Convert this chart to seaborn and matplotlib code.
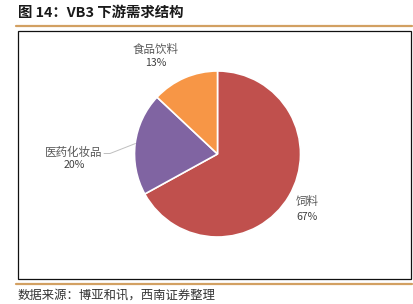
import matplotlib
matplotlib.use("Agg")
import matplotlib.pyplot as plt
import seaborn as sns
from matplotlib.patches import Rectangle
from matplotlib.lines import Line2D

categories = ["饲料", "医药化妆品", "食品饮料"]
shares = [67, 20, 13]
colors = ["#C0504D", "#8064A2", "#F79646"]
title_text = "图 14：VB3 下游需求结构"
source_text = "数据来源：博亚和讯，西南证券整理"

sns.set_theme(style="white")
plt.rcParams['font.family'] = ['Noto Sans CJK SC', 'DejaVu Sans']

W, H = 414, 304
fig = plt.figure(figsize=(W / 100, H / 100), dpi=100)

def fx(px):
    return px / W

def fy(py):
    return 1 - py / H

# header / footer
fig.text(fx(18), fy(13), title_text, fontsize=10.4, fontweight="bold",
         color="#1a1a1a", va="center", ha="left")
fig.add_artist(Line2D([fx(16), fx(412)], [fy(26), fy(26)], color="#D2A062", lw=1.6))
fig.add_artist(Rectangle((fx(18), fy(279)), fx(411) - fx(18), fy(31) - fy(279),
                         fill=False, edgecolor="#111111", lw=0.9))
fig.add_artist(Line2D([fx(16), fx(412)], [fy(284), fy(284)], color="#D2A062", lw=1.6))
fig.text(fx(18), fy(295), source_text, fontsize=8.9, style="italic",
         color="#333333", va="center", ha="left")

# pie axes
cx, cy, r = 217.5, 154, 83
ax = fig.add_axes([fx(cx - r), fy(cy + r), 2 * r / W, 2 * r / H])
ax.pie(shares, colors=colors, startangle=90, counterclock=False, radius=1,
       wedgeprops=dict(edgecolor="white", linewidth=1.2))
ax.set_xlim(-1, 1)
ax.set_ylim(-1, 1)
ax.axis("off")

def p2d(px, py):
    return ((px - cx) / r, (cy - py) / r)

label_pos = {
    "饲料": (307, 202, 216.5),
    "医药化妆品": (74, 152, 165),
    "食品饮料": (156, 49, 63),
}
for cat, val in zip(categories, shares):
    x, y1, y2 = label_pos[cat]
    ax.text(*p2d(x, y1), cat, fontsize=8.3, color="#595959", ha="center", va="center")
    ax.text(*p2d(x, y2), f"{val}%", fontsize=7.6, color="#404040", ha="center", va="center")

# leader line for 医药化妆品
ax.plot([p2d(104, 153.5)[0], p2d(110, 153.5)[0], p2d(135.5, 143.5)[0]],
        [p2d(104, 153.5)[1], p2d(110, 153.5)[1], p2d(135.5, 143.5)[1]],
        color="#BFBFBF", lw=0.7, clip_on=False)

fig.savefig("out.png", dpi=100)
